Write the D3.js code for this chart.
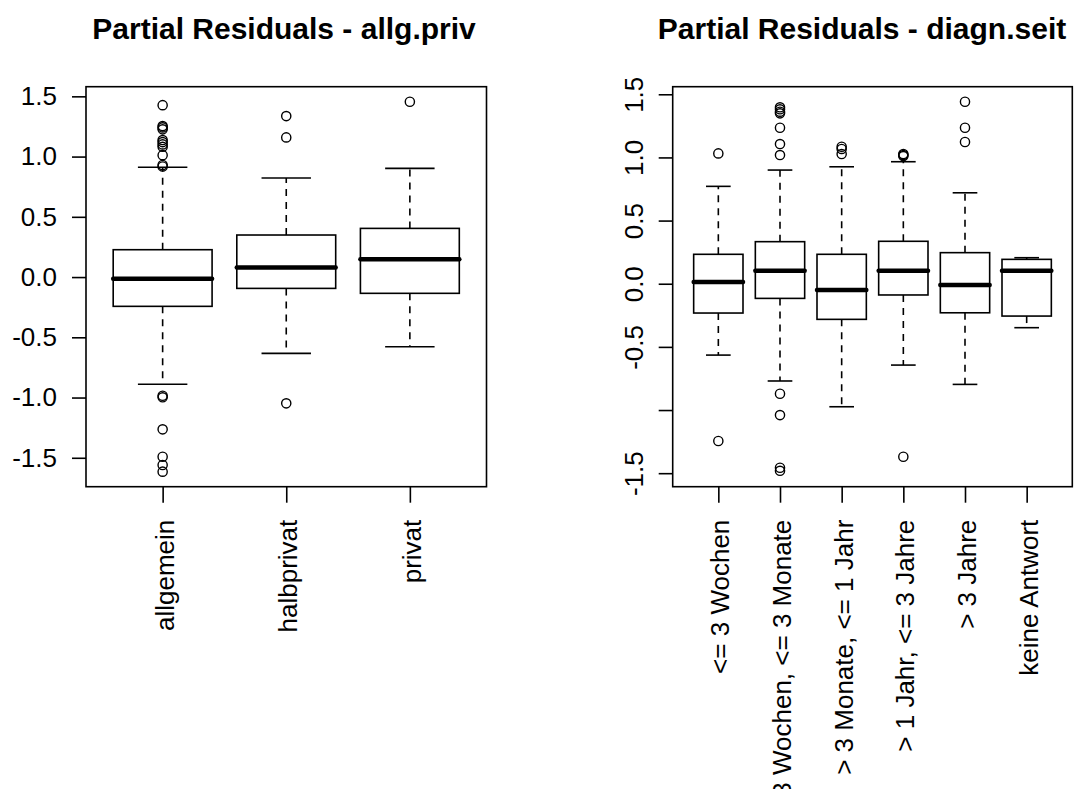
<!DOCTYPE html>
<html>
<head>
<meta charset="utf-8">
<script src="https://cdn.jsdelivr.net/npm/d3@7"></script>
<style>
  body { margin: 0; background: #fff; }
  svg { display: block; }
  text { font-family: "Liberation Sans", Arial, sans-serif; fill: #000; }
</style>
</head>
<body>
<svg id="svg" width="1088" height="789"></svg>
<script>
// ---- data: left panel (allg.priv) ----
var privCats = ["allgemein", "halbprivat", "privat"];
var privQ1  = [-0.243, -0.094, -0.135];
var privMed = [-0.014,  0.080,  0.147];
var privQ3  = [ 0.227,  0.349,  0.404];
var privLo  = [-0.890, -0.633, -0.578];
var privHi  = [ 0.912,  0.822,  0.902];
var privOut = [
  [1.427, 1.253, 1.242, 1.226, 1.137, 1.120, 1.101, 1.081, 1.012, 0.930, 0.918,
   -0.985, -0.998, -1.264, -1.491, -1.560, -1.615],
  [1.336, 1.159, -1.048],
  [1.455]
];
var privTicks = [-1.5, -1.0, -0.5, 0.0, 0.5, 1.0, 1.5];
var privTickLabels = ["-1.5", "-1.0", "-0.5", "0.0", "0.5", "1.0", "1.5"];

// ---- data: right panel (diagn.seit) ----
var seitCats = ["<= 3 Wochen", "> 3 Wochen, <= 3 Monate", "> 3 Monate, <= 1 Jahr",
                "> 1 Jahr, <= 3 Jahre", "> 3 Jahre", "keine Antwort"];
var seitQ1  = [-0.232, -0.116, -0.282, -0.089, -0.230, -0.256];
var seitMed = [ 0.013,  0.103, -0.050,  0.103, -0.010,  0.103];
var seitQ3  = [ 0.233,  0.333,  0.233,  0.336,  0.246,  0.193];
var seitLo  = [-0.565, -0.770, -0.974, -0.644, -0.797, -0.348];
var seitHi  = [ 0.771,  0.900,  0.926,  0.966,  0.720,  0.206];
var seitOut = [
  [1.032, -1.245],
  [1.397, 1.381, 1.362, 1.349, 1.235, 1.106, 1.019, -0.871, -1.040, -1.457, -1.481],
  [1.085, 1.067, 1.027],
  [1.027, 1.019, 1.011, -1.370],
  [1.441, 1.235, 1.122],
  []
];
var seitTicks = [-1.5, -1.0, -0.5, 0.0, 0.5, 1.0, 1.5];
var seitTickLabels = ["-1.5", "", "-0.5", "0.0", "0.5", "1.0", "1.5"];

var svg = d3.select("#svg");
var LW = 1.6;

function drawPanel(p) {
  var n = p.cats.length;
  var x = d3.scaleLinear().domain([0.5 - 0.04 * n, n + 0.5 + 0.04 * n]).range([p.left, p.right]);
  var y = d3.scaleLinear().domain(p.ydom).range([p.bottom, p.top]);
  var bw = x(1.4) - x(1);   // half box width (boxwex 0.8)
  var cw = bw / 2;          // half whisker cap width
  var g = svg.append("g");
  var idx = d3.range(n);

  // whiskers (dashed)
  g.selectAll(".wup").data(idx).enter().append("line")
    .attr("x1", function(i){ return x(i+1); }).attr("x2", function(i){ return x(i+1); })
    .attr("y1", function(i){ return y(p.q3[i]); }).attr("y2", function(i){ return y(p.hi[i]); })
    .attr("stroke", "#000").attr("stroke-width", LW).attr("stroke-dasharray", "7,6");
  g.selectAll(".wdn").data(idx).enter().append("line")
    .attr("x1", function(i){ return x(i+1); }).attr("x2", function(i){ return x(i+1); })
    .attr("y1", function(i){ return y(p.q1[i]); }).attr("y2", function(i){ return y(p.lo[i]); })
    .attr("stroke", "#000").attr("stroke-width", LW).attr("stroke-dasharray", "7,6");

  // caps
  [p.hi, p.lo].forEach(function(arr) {
    g.selectAll(null).data(idx).enter().append("line")
      .attr("x1", function(i){ return x(i+1) - cw; }).attr("x2", function(i){ return x(i+1) + cw; })
      .attr("y1", function(i){ return y(arr[i]); }).attr("y2", function(i){ return y(arr[i]); })
      .attr("stroke", "#000").attr("stroke-width", LW);
  });

  // boxes
  g.selectAll(".box").data(idx).enter().append("rect")
    .attr("x", function(i){ return x(i+1) - bw; })
    .attr("width", 2 * bw)
    .attr("y", function(i){ return y(p.q3[i]); })
    .attr("height", function(i){ return y(p.q1[i]) - y(p.q3[i]); })
    .attr("fill", "#fff").attr("stroke", "#000").attr("stroke-width", LW);

  // medians
  g.selectAll(".med").data(idx).enter().append("line")
    .attr("x1", function(i){ return x(i+1) - bw; }).attr("x2", function(i){ return x(i+1) + bw; })
    .attr("y1", function(i){ return y(p.med[i]); }).attr("y2", function(i){ return y(p.med[i]); })
    .attr("stroke", "#000").attr("stroke-width", 4.5).attr("stroke-linecap", "round");

  // outliers
  var pts = [];
  p.out.forEach(function(arr, i){ arr.forEach(function(v){ pts.push({i: i, v: v}); }); });
  g.selectAll(".out").data(pts).enter().append("circle")
    .attr("cx", function(d){ return x(d.i + 1); })
    .attr("cy", function(d){ return y(d.v); })
    .attr("r", 4.6)
    .attr("fill", "none").attr("stroke", "#000").attr("stroke-width", 1.4);

  // frame
  g.append("rect")
    .attr("x", p.left).attr("y", p.top)
    .attr("width", p.right - p.left).attr("height", p.bottom - p.top)
    .attr("fill", "none").attr("stroke", "#000").attr("stroke-width", LW);

  // y axis
  var ya = g.append("g").attr("transform", "translate(" + p.left + ",0)")
    .call(d3.axisLeft(y).tickValues(p.ticks)
      .tickFormat(function(d, i){ return p.tickLabels[i]; })
      .tickSize(14).tickSizeOuter(0).tickPadding(15));
  ya.select(".domain").remove();
  ya.selectAll("line").attr("stroke", "#000").attr("stroke-width", LW);
  ya.selectAll("text").attr("font-size", 26).attr("font-family", "Liberation Sans, Arial, sans-serif");
  if (p.rotateY) {
    ya.selectAll("text")
      .attr("transform", "rotate(-90)")
      .attr("text-anchor", "middle")
      .attr("x", 0).attr("y", -30).attr("dy", 0);
  }

  // x axis
  var xa = g.append("g").attr("transform", "translate(0," + p.bottom + ")")
    .call(d3.axisBottom(x).tickValues(d3.range(1, n + 1))
      .tickFormat(function(d){ return p.cats[d - 1]; })
      .tickSize(16).tickSizeOuter(0));
  xa.select(".domain").remove();
  xa.selectAll("line").attr("stroke", "#000").attr("stroke-width", LW);
  xa.selectAll("text")
    .attr("font-size", 26).attr("font-family", "Liberation Sans, Arial, sans-serif")
    .attr("transform", "rotate(-90)")
    .attr("text-anchor", "end")
    .attr("x", -33).attr("y", 0).attr("dy", "0.4em");

  // title
  svg.append("text")
    .attr("x", p.titleX).attr("y", 38.5)
    .attr("text-anchor", "middle")
    .attr("font-size", 30).attr("font-weight", "bold")
    .text(p.title);
}

drawPanel({
  cats: privCats, q1: privQ1, med: privMed, q3: privQ3, lo: privLo, hi: privHi, out: privOut,
  ticks: privTicks, tickLabels: privTickLabels,
  ydom: [-1.74, 1.58], left: 86, right: 486.5, top: 86.7, bottom: 486.7,
  rotateY: false, title: "Partial Residuals - allg.priv", titleX: 284
});
drawPanel({
  cats: seitCats, q1: seitQ1, med: seitMed, q3: seitQ3, lo: seitLo, hi: seitHi, out: seitOut,
  ticks: seitTicks, tickLabels: seitTickLabels,
  ydom: [-1.607, 1.56], left: 672.7, right: 1072.3, top: 86.7, bottom: 486.7,
  rotateY: true, title: "Partial Residuals - diagn.seit", titleX: 862
});
</script>
</body>
</html>
